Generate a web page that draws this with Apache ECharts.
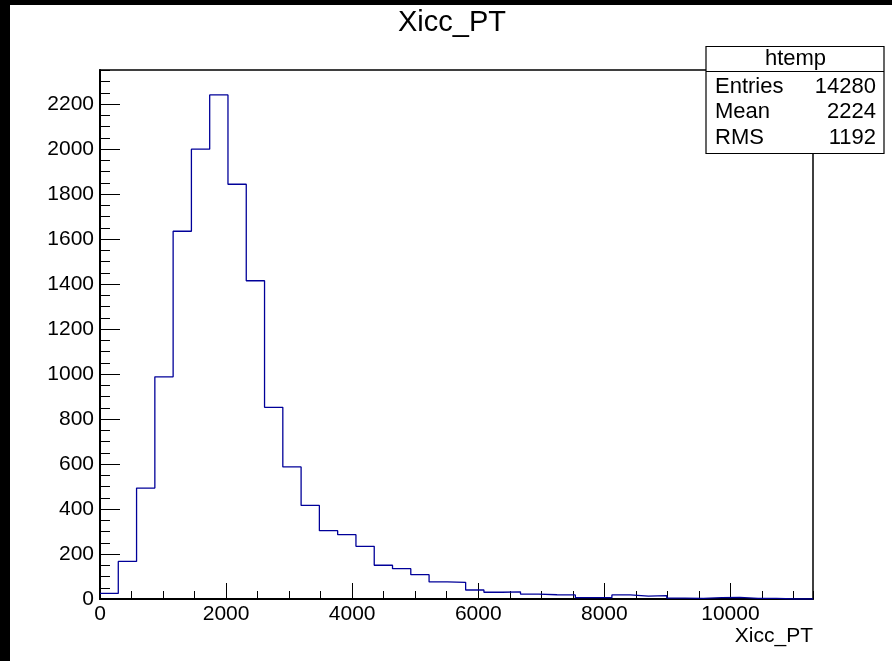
<!DOCTYPE html>
<html lang="en">
<head>
    <meta charset="UTF-8">
    <title>Xicc_PT</title>
    <script src="https://cdn.jsdelivr.net/npm/echarts@6/dist/echarts.min.js"></script>
    <style>
        html, body { margin: 0; padding: 0; background: #fff; overflow: hidden; }
        #box { width: 892px; height: 661px; }
    </style>
</head>
<body>
    <div id="box"></div>
    <script>
        // histogram bins (width 290, range 0 - 11310)
        var binWidth = 290;
        var xMax = 11310;
        var yMax = 2352;
        var counts = [25, 167, 493, 988, 1635, 2000, 2241, 1844, 1415, 852,
                      587, 416, 304, 286, 234, 150, 135, 108, 76, 74,
                      40, 30, 32, 22, 19, 18, 6, 6, 18, 13,
                      15, 4, 3, 6, 7, 3, 3, 0, 0];
        // stat box
        var statName = 'htemp';
        var statLabels = ['Entries', 'Mean', 'RMS'];
        var statValues = ['14280', '2224', '1192'];

        var font = 'Liberation Sans, Arial, Helvetica, sans-serif';

        // step points: left edge of every bin, plus the right end
        var steps = counts.map(function (c, i) { return [i * binWidth, c]; });
        steps.push([xMax, counts[counts.length - 1]]);

        var plain = function (v) { return String(v); };

        var myChart = echarts.init(document.getElementById('box'));

        var statText = [];
        statLabels.forEach(function (lab, i) {
            var y = 86.5 + i * 25.6;
            statText.push({ type: 'text', x: 715, y: y, z: 12,
                style: { text: lab, font: '22px ' + font, fill: '#000', textAlign: 'left', textVerticalAlign: 'middle' } });
            statText.push({ type: 'text', x: 876, y: y, z: 12,
                style: { text: statValues[i], font: '22px ' + font, fill: '#000', textAlign: 'right', textVerticalAlign: 'middle' } });
        });

        var option = {
            backgroundColor: '#fff',
            animation: false,
            grid: {
                left: 100, top: 70, right: 79, bottom: 62,
                show: true, borderColor: '#000', borderWidth: 1.5, backgroundColor: '#fff'
            },
            xAxis: [
                {
                    type: 'value', min: 0, max: xMax, interval: 2000,
                    axisLine: { show: true, lineStyle: { color: '#000', width: 2 } },
                    axisTick: { show: true, inside: true, length: 16, lineStyle: { color: '#000', width: 1 } },
                    axisLabel: { margin: 5, showMaxLabel: false, formatter: plain, color: '#000', fontSize: 21, fontFamily: font },
                    splitLine: { show: false },
                    name: 'Xicc_PT', nameLocation: 'end', nameGap: 0,
                    nameTextStyle: { color: '#000', fontSize: 21, fontFamily: font, align: 'right', verticalAlign: 'top', padding: [27, 0, 0, 0] }
                },
                {
                    type: 'value', min: 0, max: xMax, interval: 500, position: 'bottom',
                    axisLine: { show: false },
                    axisTick: { show: true, inside: true, length: 8, lineStyle: { color: '#000', width: 1 } },
                    axisLabel: { show: false },
                    splitLine: { show: false }
                }
            ],
            yAxis: [
                {
                    type: 'value', min: 0, max: yMax, interval: 200,
                    axisLine: { show: true, lineStyle: { color: '#000', width: 2 } },
                    axisTick: { show: true, inside: true, length: 20, lineStyle: { color: '#000', width: 1 } },
                    axisLabel: { margin: 6, showMaxLabel: false, formatter: plain, color: '#000', fontSize: 21, fontFamily: font },
                    splitLine: { show: false }
                },
                {
                    type: 'value', min: 0, max: yMax, interval: 50, position: 'left',
                    axisLine: { show: false },
                    axisTick: { show: true, inside: true, length: 10, lineStyle: { color: '#000', width: 1 } },
                    axisLabel: { show: false },
                    splitLine: { show: false }
                }
            ],
            series: [
                {
                    name: 'htemp',
                    type: 'line',
                    step: 'end',
                    data: steps,
                    symbol: 'none',
                    lineStyle: { color: '#000099', width: 1.3 },
                    z: 5
                }
            ],
            graphic: [
                // ROOT canvas border
                { type: 'rect', shape: { x: 0, y: 0, width: 10, height: 661 }, style: { fill: '#000' }, z: 20 },
                { type: 'rect', shape: { x: 0, y: 0, width: 892, height: 5 }, style: { fill: '#000' }, z: 20 },
                // title
                { type: 'text', x: 452, y: 22.5, z: 12,
                  style: { text: 'Xicc_PT', font: '29px ' + font, fill: '#000', textAlign: 'center', textVerticalAlign: 'middle' } },
                // stat box
                { type: 'rect', z: 11, shape: { x: 706, y: 46.5, width: 178, height: 107 },
                  style: { fill: '#fff', stroke: '#000', lineWidth: 1.2 } },
                { type: 'line', z: 12, shape: { x1: 706, y1: 71.5, x2: 884, y2: 71.5 },
                  style: { stroke: '#000', lineWidth: 1.2 } },
                { type: 'text', x: 795.5, y: 59, z: 12,
                  style: { text: statName, font: '22px ' + font, fill: '#000', textAlign: 'center', textVerticalAlign: 'middle' } }
            ].concat(statText)
        };

        myChart.setOption(option);
    </script>
</body>
</html>
